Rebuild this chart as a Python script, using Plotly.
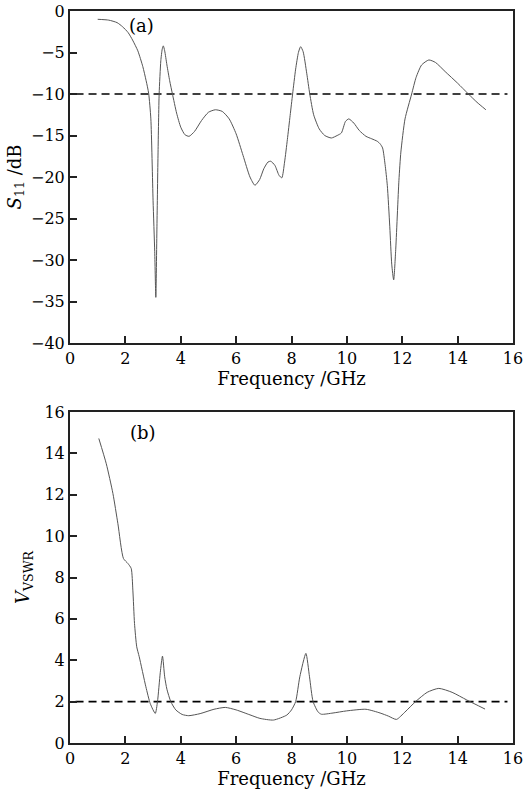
import plotly.graph_objects as go
from plotly.subplots import make_subplots

# S11 data (GHz, dB)
freq_s11 = [1.0, 1.4, 1.7, 1.9, 2.1, 2.26, 2.45, 2.63, 2.75, 2.84, 2.92, 3.0, 3.06, 3.1,
            3.14, 3.18, 3.22, 3.28, 3.33, 3.37, 3.42, 3.5, 3.6, 3.7, 3.85, 4.0, 4.15, 4.3,
            4.5, 4.75, 5.0, 5.25, 5.5, 5.75, 6.0, 6.25, 6.5, 6.68, 6.85, 7.0, 7.15, 7.25,
            7.4, 7.55, 7.65, 7.75, 7.85, 7.95, 8.04, 8.15, 8.25, 8.33, 8.42, 8.55, 8.66,
            8.8, 9.0, 9.2, 9.44, 9.65, 9.8, 9.95, 10.07, 10.25, 10.45, 10.69, 10.9, 11.1,
            11.2, 11.29, 11.38, 11.46, 11.55, 11.62, 11.69, 11.76, 11.88, 11.95, 12.1,
            12.34, 12.5, 12.7, 12.96, 13.2, 13.55, 14.0, 14.39, 14.7, 15.02]
s11_db = [-1.0, -1.1, -1.4, -1.9, -2.6, -3.5, -4.8, -6.7, -8.4, -9.9, -13.0, -22.8, -29.0, -34.5,
          -26.0, -17.0, -10.0, -6.0, -4.6, -4.2, -4.8, -6.5, -8.4, -10.0, -12.3, -14.0, -14.9, -15.1,
          -14.5, -13.2, -12.2, -11.9, -12.1, -13.0, -14.8, -17.4, -20.0, -21.0, -20.3, -19.0, -18.2, -18.1,
          -18.6, -19.8, -20.1, -18.2, -15.5, -12.6, -10.0, -7.0, -5.0, -4.3, -4.9, -7.5, -10.0,
          -12.5, -14.2, -15.0, -15.3, -15.0, -14.7, -13.3, -13.0, -13.5, -14.4, -15.1, -15.4, -15.7,
          -16.0, -16.5, -18.5, -21.0, -26.0, -30.5, -32.4, -29.0, -20.4, -17.0, -13.0,
          -10.0, -8.0, -6.5, -5.9, -6.2, -7.3, -8.7, -10.0, -11.0, -11.9]

# VSWR data
freq_vswr = [1.04, 1.31, 1.55, 1.73, 1.93, 2.09, 2.21, 2.27, 2.33, 2.41, 2.5, 2.74, 2.9, 3.08,
             3.16, 3.26, 3.34, 3.42, 3.5, 3.64, 3.82, 4.05, 4.29, 4.7, 5.2, 5.61, 6.0, 6.5,
             6.86, 7.35, 7.83, 8.0, 8.15, 8.3, 8.52, 8.65, 8.78, 8.96, 9.08, 9.5, 9.98,
             10.69, 11.2, 11.5, 11.79, 12.1, 12.48, 12.9, 13.32, 13.8, 14.33, 14.99]
vswr = [14.72, 13.5, 12.06, 10.6, 8.92, 8.68, 8.44, 7.39, 5.78, 4.65, 4.17, 2.72, 1.9, 1.43,
        2.0, 3.4, 4.2, 3.2, 2.6, 2.0, 1.6, 1.38, 1.32, 1.42, 1.63, 1.72, 1.6, 1.36,
        1.19, 1.11, 1.35, 1.6, 2.0, 3.2, 4.33, 3.2, 2.0, 1.5, 1.39, 1.45, 1.55,
        1.63, 1.45, 1.3, 1.14, 1.5, 2.0, 2.45, 2.64, 2.45, 2.08, 1.64]

ref_x = [0.2, 15.8]
ref_s11 = [-10, -10]
ref_vswr = [2, 2]

x_ticks = [0, 2, 4, 6, 8, 10, 12, 14, 16]
s11_ticks = [0, -5, -10, -15, -20, -25, -30, -35, -40]
vswr_ticks = [0, 2, 4, 6, 8, 10, 12, 14, 16]

W, H = 524, 794
ml, mr, mt, mb = 70, 11, 11, 51
ph = H - mt - mb

fig = make_subplots(rows=2, cols=1)
curve_color = "#555555"
fig.add_trace(go.Scatter(x=ref_x, y=ref_s11, mode="lines",
                         line=dict(color="black", width=1.6, dash="8px,5px")), row=1, col=1)
fig.add_trace(go.Scatter(x=freq_s11, y=s11_db, mode="lines",
                         line=dict(color=curve_color, width=1, shape="spline", smoothing=0.6)), row=1, col=1)
fig.add_trace(go.Scatter(x=ref_x, y=ref_vswr, mode="lines",
                         line=dict(color="black", width=1.6, dash="8px,5px")), row=2, col=1)
fig.add_trace(go.Scatter(x=freq_vswr, y=vswr, mode="lines",
                         line=dict(color=curve_color, width=1, shape="spline", smoothing=0.6)), row=2, col=1)

tickfont = dict(family="DejaVu Serif", size=16, color="black")
titlefont = dict(family="DejaVu Serif", size=18, color="black")
axis_common = dict(showgrid=False, zeroline=False, showline=True, linecolor="#222222", linewidth=2,
                   mirror=True, ticks="inside", ticklen=7, tickwidth=1.5, tickcolor="#222222",
                   tickfont=tickfont, ticklabeloverflow="allow", automargin=False)

top_dom = [(743 - 343) / ph, 1.0]
bot_dom = [0.0, (743 - 412) / ph]

fig.update_xaxes(range=[0, 16], tickvals=x_ticks, **axis_common,
                 title=dict(text="Frequency /GHz", font=titlefont, standoff=3))
fig.update_yaxes(**axis_common)
fig.update_layout(
    yaxis=dict(domain=top_dom, range=[-40, 0], tickvals=s11_ticks,
               ticktext=[str(v).replace("-", "\u2212") for v in s11_ticks],
               title=dict(text="<i>S</i><sub>11</sub> /dB", font=titlefont, standoff=5)),
    yaxis2=dict(domain=bot_dom, range=[0, 16], tickvals=vswr_ticks,
                title=dict(text="<i>V</i><sub>VSWR</sub>", font=titlefont, standoff=10)),
    width=W, height=H, margin=dict(l=ml, r=mr, t=mt, b=mb),
    plot_bgcolor="white", paper_bgcolor="white", showlegend=False,
    annotations=[
        dict(x=2.6, y=-1.7, xref="x", yref="y", text="(a)", showarrow=False, font=titlefont),
        dict(x=2.65, y=15.0, xref="x2", yref="y2", text="(b)", showarrow=False, font=titlefont),
    ],
)

fig.write_html("out.html")
